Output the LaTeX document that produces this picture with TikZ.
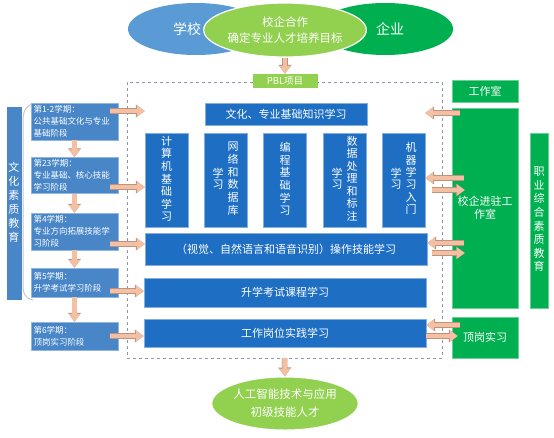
\documentclass[tikz,border=0pt]{standalone}
\usepackage{fontspec}
\setmainfont{Noto Sans CJK SC}
\usetikzlibrary{shapes.geometric, arrows.meta, positioning}
\definecolor{boxblue}{RGB}{30,110,196}
\definecolor{stageblue}{RGB}{72,134,200}
\definecolor{schoolblue}{RGB}{91,155,213}
\definecolor{leafgreen}{RGB}{146,208,80}
\definecolor{firmgreen}{RGB}{0,176,80}
\definecolor{flowfill}{RGB}{244,192,164}
\definecolor{flowedge}{RGB}{190,146,124}
\definecolor{framegray}{RGB}{140,150,170}
\newcommand{\vchars}[1]{\begin{tabular}{@{}c@{}}#1\end{tabular}}

\begin{document}
\begin{tikzpicture}[x=1pt,y=-1pt,
  stage/.style={fill=stageblue, draw=stageblue!60!white, text=white,
    minimum width=87, minimum height=#1, text width=82, align=left,
    inner sep=2pt, font=\fontsize{8.5}{12}\selectfont},
  course/.style={fill=boxblue, draw=boxblue!55!white, text=white,
    inner sep=0pt, font=\fontsize{11}{11.5}\selectfont},
  room/.style={fill=firmgreen, draw=firmgreen!60!white, text=white,
    inner sep=0pt, font=\fontsize{11}{12.5}\selectfont},
  oval/.style={ellipse, text=white, inner sep=0pt, align=center},
  flow/.style={line width=4.5pt, draw=flowfill, -{Triangle[length=8pt,width=11pt]},
    preaction={draw=flowedge, line width=5.5pt, -{Triangle[length=9pt,width=12.5pt]}}}]

\fill[white] (0,0) rectangle (554,437);
\useasboundingbox (0,0) rectangle (554,437);

% School, enterprise and cooperation
\node[oval, fill=schoolblue,
    minimum width=136, minimum height=52,
    font=\fontsize{14}{16}\selectfont] (school) at (196,29) {学校\hspace*{18pt}};
\node[oval, fill=firmgreen,
    minimum width=136, minimum height=52,
    font=\fontsize{14}{16}\selectfont] (firm) at (385,29) {\hspace*{10pt}企业};
\node[oval, fill=leafgreen, draw=white, line width=1.2pt,
    minimum width=148, minimum height=54,
    font=\fontsize{11.5}{16}\selectfont] (coop) at (285,30) {校企合作\\确定专业人才培养目标};

% PBL frame
\node[draw=framegray, dashed,
    minimum width=315,
    minimum height=276, inner sep=0pt] (frame) at (284.5,220) {};
\node[fill=leafgreen, text=white,
    minimum width=65,
    minimum height=14, inner sep=0pt,
    font=\fontsize{9.5}{10}\selectfont] (pbl) at (285,81) {PBL项目};

% Courses
\node[course,
    minimum width=162,
    minimum height=22] (base) at (286,114) {文化、专业基础知识学习};
\node[course, minimum width=43, minimum height=94] (c1) at (166.5,180)
    {\vchars{计\\算\\机\\基\\础\\学\\习}};
\node[course, minimum width=43, minimum height=94] (c2) at (225.5,180)
    {\vchars{学\\习}\hspace{4pt}\vchars{网\\络\\和\\数\\据\\库}};
\node[course, minimum width=43, minimum height=94] (c3) at (285,180)
    {\vchars{编\\程\\基\\础\\学\\习}};
\node[course, minimum width=43, minimum height=94] (c4) at (344.5,180)
    {\vchars{学\\习}\hspace{4pt}\vchars{数\\据\\处\\理\\和\\标\\注}};
\node[course, minimum width=43, minimum height=94] (c5) at (403.5,180)
    {\vchars{学\\习}\hspace{4pt}\vchars{机\\器\\学\\习\\入\\门}};
\node[course,
    minimum width=282,
    minimum height=32] (op) at (286,249) {（视觉、自然语言和语音识别）操作技能学习};
\node[course,
    minimum width=282,
    minimum height=29] (sx) at (285,292.5) {升学考试课程学习};
\node[course,
    minimum width=282,
    minimum height=28] (gw) at (285,333) {工作岗位实践学习};

% Result
\node[oval, fill=leafgreen, draw=white, line width=1pt,
    minimum width=146, minimum height=53,
    font=\fontsize{11.5}{18}\selectfont] (talent) at (285,403.5) {人工智能技术与应用\\初级技能人才};

% Stages
\node[fill=stageblue, text=white,
    minimum width=15,
    minimum height=193, inner sep=0pt,
    font=\fontsize{11}{14}\selectfont] (culture) at (14,203.5) {\vchars{文\\化\\素\\质\\教\\育}};
\draw[gray!45, line width=1pt] (33,104) .. controls (25,106) and (23,112) .. (23,122)
    -- (23,284) .. controls (23,294) and (25,298) .. (33,300);
\node[stage=37] (s1) at (74.5,121.5) {第1-2学期：\\公共基础文化与专业\\基础阶段};
\node[stage=35] (s2) at (74.5,175.5) {第23学期：\\专业基础、核心技能\\学习阶段};
\node[stage=37] (s3) at (74.5,231.5) {第4学期：\\专业方向拓展技能学\\习阶段};
\node[stage=29] (s4) at (74.5,282.5) {第5学期：\\升学考试学习阶段};
\node[stage=28] (s5) at (74.5,336) {第6学期：\\顶岗实习阶段};

% Studio side
\node[room, minimum width=66, minimum height=22] (w1) at (485,91) {工作室};
\node[room, minimum width=66, minimum height=200, align=center] (w2) at (485,208) {校企进驻工\\作室};
\node[room, minimum width=66, minimum height=41] (dg) at (485,337.5) {顶岗实习};
\node[room,
    minimum width=18,
    minimum height=175,
    font=\fontsize{11}{13.6}\selectfont] (career) at (539,220.5) {\vchars{职\\业\\综\\合\\素\\质\\教\\育}};

% Arrows
\draw[flow] (coop.south) -- (pbl.north);
\draw[flow] (frame.south) -- (talent.north);
\draw[flow] (s1.south) -- (s2.north);
\draw[flow] (s2.south) -- (s3.north);
\draw[flow] (s3.south) -- (s4.north);
\draw[flow] (s4.south) -- (s5.north);
\draw[flow, shorten <=-8pt] (s1.east |- 0,111) -- (c1.west |- 0,111);
\draw[flow, shorten <=-8pt] (s2.east |- 0,187) -- (c1.west |- 0,187);
\draw[flow, shorten <=-8pt] (s3.east |- 0,244) -- (op.west |- 0,244);
\draw[flow, shorten <=-8pt] (s4.east |- 0,291) -- (sx.west |- 0,291);
\draw[flow, shorten <=-8pt] (s5.east |- 0,336) -- (gw.west |- 0,336);
\draw[flow, shorten <=-8pt] (w2.west |- 0,113) -- (c5.east |- 0,113);
\draw[flow, shorten <=-12pt] (w2.west |- 0,178) -- (c5.east |- 0,178);
\draw[flow, shorten <=7pt, shorten >=-13pt] (c5.east |- 0,190) -- (w2.west |- 0,190);
\draw[flow, shorten <=-12pt] (w2.west |- 0,243) -- (op.east |- 0,243);
\draw[flow, shorten <=5pt, shorten >=-13pt] (op.east |- 0,253) -- (w2.west |- 0,253);
\draw[flow, shorten <=-8pt] (dg.west |- 0,325) -- (gw.east |- 0,325);
\draw[flow, shorten >=-6pt] (gw.east |- 0,336) -- (dg.west |- 0,336);
\end{tikzpicture}
\end{document}
